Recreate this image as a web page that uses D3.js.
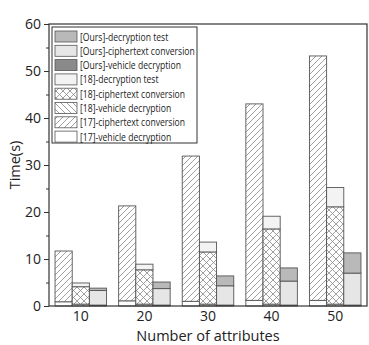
<!DOCTYPE html>
<html>
<head>
<meta charset="UTF-8">
<script src="https://cdn.jsdelivr.net/npm/d3@7"></script>
<style>
    body { margin: 0; background: #fff; }
    text { font-family: "Open Sans", "Noto Sans", sans-serif; fill: #222; }
</style>
</head>
<body>
<script>
    // data
    var attributes = [10, 20, 30, 40, 50];
    var s17_vehicle = [0.9, 1.1, 1.0, 1.2, 1.2];
    var s17_cipher = [10.8, 20.2, 30.9, 41.8, 52.0];
    var s18_vehicle = [0.4, 0.4, 0.4, 0.4, 0.4];
    var s18_cipher = [3.7, 7.3, 11.1, 16.0, 20.7];
    var s18_test = [0.8, 1.2, 2.1, 2.7, 4.1];
    var ours_vehicle = [0.2, 0.2, 0.2, 0.2, 0.2];
    var ours_cipher = [3.1, 3.5, 4.1, 5.1, 6.8];
    var ours_test = [0.5, 1.4, 2.1, 2.8, 4.3];
    var yTicks = [0, 10, 20, 30, 40, 50, 60];

    var width = 369, height = 345;
    var mLeft = 49, mRight = 367, mTop = 24, mBottom = 306;

    var svg = d3.select("body").append("svg").attr("width", width).attr("height", height);
    var defs = svg.append("defs");

    function hatch(id, paths, size) {
        var p = defs.append("pattern").attr("id", id).attr("patternUnits", "userSpaceOnUse")
            .attr("width", size).attr("height", size);
        p.append("rect").attr("width", size).attr("height", size).attr("fill", "#fff");
        paths.forEach(function(d) {
            p.append("path").attr("d", d).attr("stroke", "#888").attr("stroke-width", 0.8).attr("fill", "none");
        });
    }
    hatch("fwd", ["M0,6 L6,0 M-1,1 L1,-1 M5,7 L7,5"], 6);
    hatch("back", ["M0,0 L6,6 M-1,5 L1,7 M5,-1 L7,1"], 6);
    hatch("cross", ["M0,0 L7,7 M0,7 L7,0"], 7);

    var x = d3.scaleBand().domain(attributes).range([mLeft, mRight]).paddingInner(0.19).paddingOuter(0.095);
    var y = d3.scaleLinear().domain([0, 60]).range([mBottom, mTop]);
    var bw = x.bandwidth() / 3;

    var groups = [
        { name: "[17]", layers: [
            { label: "[17]-vehicle decryption", values: s17_vehicle, fill: "#fff" },
            { label: "[17]-ciphertext conversion", values: s17_cipher, fill: "url(#fwd)" }] },
        { name: "[18]", layers: [
            { label: "[18]-vehicle decryption", values: s18_vehicle, fill: "url(#back)" },
            { label: "[18]-ciphertext conversion", values: s18_cipher, fill: "url(#cross)" },
            { label: "[18]-decryption test", values: s18_test, fill: "#f3f3f3" }] },
        { name: "[Ours]", layers: [
            { label: "[Ours]-vehicle decryption", values: ours_vehicle, fill: "#8a8a8a" },
            { label: "[Ours]-ciphertext conversion", values: ours_cipher, fill: "#e6e6e6" },
            { label: "[Ours]-decryption test", values: ours_test, fill: "#b9b9b9" }] }
    ];

    groups.forEach(function(g, gi) {
        attributes.forEach(function(a, i) {
            var base = 0;
            g.layers.forEach(function(l) {
                var v = l.values[i];
                svg.append("rect")
                    .attr("x", x(a) + gi * bw)
                    .attr("y", y(base + v))
                    .attr("width", bw)
                    .attr("height", y(base) - y(base + v))
                    .attr("fill", l.fill)
                    .attr("stroke", "#555")
                    .attr("stroke-width", 0.9);
                base += v;
            });
        });
    });

    // frame
    svg.append("rect").attr("x", mLeft).attr("y", mTop).attr("width", mRight - mLeft).attr("height", mBottom - mTop)
        .attr("fill", "none").attr("stroke", "#333").attr("stroke-width", 1.2);

    // y axis
    var yAxis = d3.axisLeft(y).tickValues(yTicks).tickSize(5).tickPadding(3);
    var ya = svg.append("g").attr("transform", "translate(" + mLeft + ",0)").call(yAxis);
    ya.select(".domain").remove();
    ya.selectAll("text").style("font-size", "14px").style("font-family", "Open Sans, sans-serif").attr("fill", "#222");
    ya.selectAll("line").attr("stroke", "#333");
    var yMinor = d3.axisLeft(y).tickValues([5, 15, 25, 35, 45, 55]).tickSize(3).tickFormat("");
    var ym = svg.append("g").attr("transform", "translate(" + mLeft + ",0)").call(yMinor);
    ym.select(".domain").remove();
    ym.selectAll("line").attr("stroke", "#333");

    // x axis labels
    var xAxis = d3.axisBottom(x).tickSize(0).tickPadding(5);
    var xa = svg.append("g").attr("transform", "translate(0," + mBottom + ")").call(xAxis);
    xa.select(".domain").remove();
    xa.selectAll("text").style("font-size", "14px").style("font-family", "Open Sans, sans-serif").attr("fill", "#222");

    svg.append("text").attr("x", (mLeft + mRight) / 2).attr("y", 341).attr("text-anchor", "middle")
        .style("font-size", "14.5px").text("Number of attributes");
    svg.append("text").attr("transform", "translate(20," + (mTop + mBottom) / 2 + ") rotate(-90)")
        .attr("text-anchor", "middle").style("font-size", "14.5px").text("Time(s)");

    // legend
    var legendItems = [groups[2].layers[2], groups[2].layers[1], groups[2].layers[0],
        groups[1].layers[2], groups[1].layers[1], groups[1].layers[0],
        groups[0].layers[1], groups[0].layers[0]];
    var lg = svg.append("g");
    lg.append("rect").attr("x", 52).attr("y", 27).attr("width", 145).attr("height", 116)
        .attr("fill", "#fff").attr("stroke", "#333").attr("stroke-width", 1);
    legendItems.forEach(function(l, i) {
        var yy = 31 + i * 14.3;
        lg.append("rect").attr("x", 55).attr("y", yy).attr("width", 22).attr("height", 11)
            .attr("fill", l.fill).attr("stroke", "#555").attr("stroke-width", 0.8);
        lg.append("text").attr("transform", "translate(80," + (yy + 9.5) + ") scale(0.82,1)")
            .style("font-size", "10.5px").text(l.label);
    });
</script>
</body>
</html>
